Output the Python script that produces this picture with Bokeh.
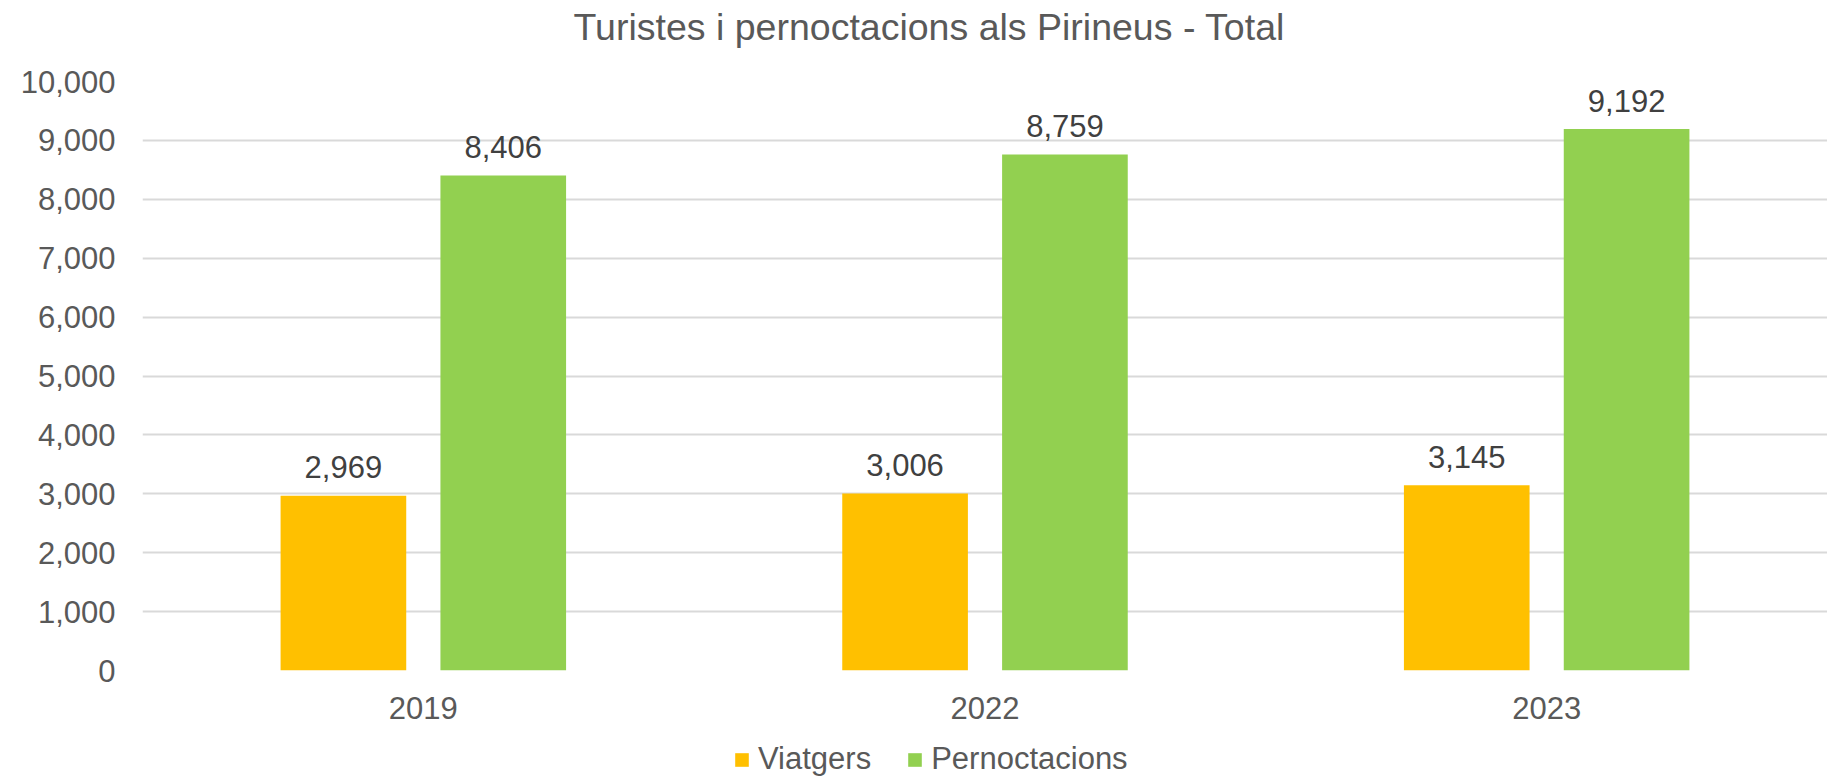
from bokeh.plotting import figure
from bokeh.layouts import column
from bokeh.models import (Range1d, FixedTicker, NumeralTickFormatter, Legend,
                          LegendItem, ColumnDataSource, Label)
from bokeh.core.properties import value
from bokeh.transform import dodge
from bokeh.embed import file_html
from bokeh.resources import INLINE

# ---- data ----
years = ["2019", "2022", "2023"]
viatgers = [2969, 3006, 3145]
pernoctacions = [8406, 8759, 9192]
y_ticks = [0, 1000, 2000, 3000, 4000, 5000, 6000, 7000, 8000, 9000, 10000]
series_names = ["Viatgers", "Pernoctacions"]
title_text = "Turistes i pernoctacions als Pirineus - Total"

FONT = "Liberation Sans"
YELLOW = "#FFC000"
GREEN = "#92D050"
AXIS_TXT = "#595959"
LABEL_TXT = "#404040"

W = 1827
TITLE_H = 50
MAIN_H = 692
LEG_H = 34
FRAME_LEFT = 142


def strip(h):
    f = figure(width=W, height=h, x_range=Range1d(0, 1), y_range=Range1d(0, 1),
               output_backend="svg", toolbar_location=None,
               x_axis_type=None, y_axis_type=None,
               min_border_left=0, min_border_right=0, min_border_top=0, min_border_bottom=0)
    f.outline_line_color = None
    f.grid.visible = False
    f.background_fill_color = "white"
    f.border_fill_color = "white"
    return f


# ---- title strip ----
tf = strip(TITLE_H)
tf.add_layout(Label(x=928.8 - FRAME_LEFT, y=TITLE_H - 26, x_units="screen", y_units="screen",
                    text=title_text, text_align="center", text_baseline="alphabetic",
                    text_font=FONT, text_font_size="37.5px", text_color=AXIS_TXT))

# ---- main chart ----
src = ColumnDataSource(dict(
    year=years,
    v=viatgers,
    p=pernoctacions,
    v_lbl=[f"{x:,}" for x in viatgers],
    p_lbl=[f"{x:,}" for x in pernoctacions],
))

p = figure(x_range=years, y_range=Range1d(0, 10000),
           width=W, height=MAIN_H, output_backend="svg", toolbar_location=None,
           min_border_left=FRAME_LEFT, min_border_right=0, min_border_top=81 - TITLE_H,
           min_border_bottom=TITLE_H + MAIN_H - 670)
p.outline_line_color = None
p.background_fill_color = "white"
p.border_fill_color = "white"

OFF = 0.1423
BW = 0.2237
r1 = p.vbar(x=dodge("year", -OFF, range=p.x_range), top="v", width=BW, source=src,
            fill_color=YELLOW, line_color=None)
r2 = p.vbar(x=dodge("year", OFF, range=p.x_range), top="p", width=BW, source=src,
            fill_color=GREEN, line_color=None)

for col, lbl, off in (("v", "v_lbl", -OFF), ("p", "p_lbl", OFF)):
    p.text(x=dodge("year", off, range=p.x_range), y=col, text=lbl, source=src,
           y_offset=-28.5, text_align="center", text_baseline="alphabetic",
           text_font=value(FONT), text_font_size="31px", text_color=LABEL_TXT)

p.yaxis.ticker = FixedTicker(ticks=y_ticks)
p.yaxis.formatter = NumeralTickFormatter(format="0,0")
for ax in (p.xaxis, p.yaxis):
    ax.axis_line_color = None
    ax.major_tick_line_color = None
    ax.minor_tick_line_color = None
    ax.major_tick_in = 0
    ax.major_tick_out = 0
    ax.minor_tick_in = 0
    ax.minor_tick_out = 0
    ax.major_label_text_font = FONT
    ax.major_label_text_font_size = "31px"
    ax.major_label_text_color = AXIS_TXT
p.yaxis.major_label_standoff = 27
p.xaxis.major_label_standoff = 26

p.xgrid.grid_line_color = None
p.ygrid.ticker = FixedTicker(ticks=y_ticks)
p.ygrid.grid_line_color = "#D9D9D9"
p.ygrid.grid_line_width = 2

# ---- legend strip ----
lg = strip(LEG_H)
d1 = lg.vbar(x=[5], top=[5], bottom=[4], width=0.1, fill_color=YELLOW, line_color=None)
d2 = lg.vbar(x=[5], top=[5], bottom=[4], width=0.1, fill_color=GREEN, line_color=None)
legend = Legend(items=[LegendItem(label=series_names[0], renderers=[d1]),
                       LegendItem(label=series_names[1], renderers=[d2])],
                orientation="horizontal", location=(733 - FRAME_LEFT, -1),
                label_text_font=FONT, label_text_font_size="31px", label_text_color=AXIS_TXT,
                glyph_width=17, glyph_height=17, label_standoff=8, spacing=35,
                padding=0, margin=0, border_line_color=None, background_fill_alpha=0)
lg.add_layout(legend, "center")

layout = column(tf, p, lg, spacing=0)
open("out.html", "w").write(file_html(layout, INLINE))
